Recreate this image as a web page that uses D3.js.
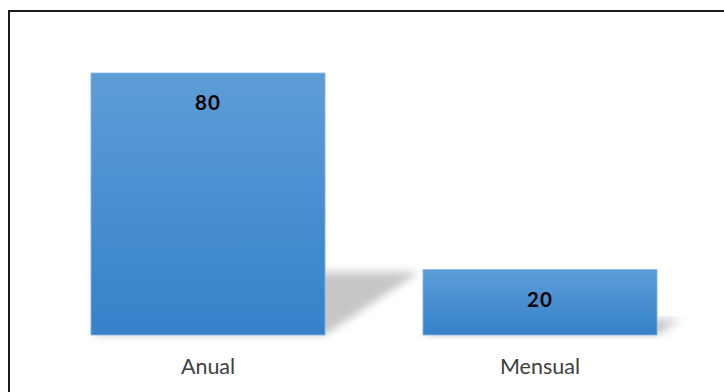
<!DOCTYPE html>
<html>
<head>
<meta charset="utf-8">
<script src="https://cdn.jsdelivr.net/npm/d3@7"></script>
<style>
  html, body { margin: 0; padding: 0; background: #fff; }
  svg { display: block; }
</style>
</head>
<body>
<svg id="chart" width="724" height="392"></svg>
<script>
const categories = ["Anual", "Mensual"];
const values = [80, 20];
const valueLabels = ["80", "20"];

const W = 724, H = 392;
const svg = d3.select("#chart");

// frame border (extends beyond right/bottom edges)
svg.append("rect")
  .attr("x", 9).attr("y", 11)
  .attr("width", W + 20).attr("height", H + 20)
  .attr("fill", "#fff")
  .attr("stroke", "#1a1a1a").attr("stroke-width", 2);

const x = d3.scaleBand().domain(categories).range([42, 706]).paddingInner(0.295).paddingOuter(0.1475);
const y = d3.scaleLinear().domain([0, 80]).range([335, 73]);

const defs = svg.append("defs");
const grad = defs.append("linearGradient").attr("id", "barGrad")
  .attr("x1", 0).attr("y1", 0).attr("x2", 0).attr("y2", 1);
grad.append("stop").attr("offset", "0%").attr("stop-color", "#5d9dd7");
grad.append("stop").attr("offset", "100%").attr("stop-color", "#3581ca");

const blur = defs.append("filter").attr("id", "shBlur")
  .attr("x", "-20%").attr("y", "-20%").attr("width", "140%").attr("height", "140%");
blur.append("feGaussianBlur").attr("stdDeviation", 4);

const data = categories.map((c, i) => ({ c, v: values[i], label: valueLabels[i] }));
const base = y(0);

// perspective shadows
svg.append("g").selectAll("polygon").data(data).join("polygon")
  .attr("points", d => {
    const x0 = x(d.c), x1 = x(d.c) + x.bandwidth();
    const h = base - y(d.v);
    const k = 0.24, dx = h * 0.36;
    return [[x0, base], [x1, base], [x1 + dx, base - h * k], [x0 + dx, base - h * k]]
      .map(p => p.join(",")).join(" ");
  })
  .attr("fill", "#b8b8b8")
  .attr("opacity", 0.8)
  .attr("filter", "url(#shBlur)");

// bars
svg.append("g").selectAll("rect").data(data).join("rect")
  .attr("x", d => x(d.c))
  .attr("y", d => y(d.v))
  .attr("width", x.bandwidth())
  .attr("height", d => base - y(d.v))
  .attr("fill", "url(#barGrad)")
  .attr("stroke", "#8ab8e3").attr("stroke-width", 0.8);

// value labels
svg.append("g").selectAll("text").data(data).join("text")
  .attr("x", d => x(d.c) + x.bandwidth() / 2)
  .attr("y", d => y(d.v) + 37)
  .attr("text-anchor", "middle")
  .attr("font-family", "Lato, 'Open Sans', sans-serif")
  .attr("font-weight", "bold")
  .attr("font-size", 20.5)
  .attr("letter-spacing", 1)
  .attr("fill", "#000")
  .text(d => d.label);

// category axis labels
const xAxis = d3.axisBottom(x).tickSize(0).tickPadding(0);
const ax = svg.append("g").attr("transform", `translate(0,${base})`).call(xAxis);
ax.select(".domain").remove();
ax.selectAll("text")
  .attr("y", 38.5).attr("dy", null)
  .attr("font-family", "Lato, 'Open Sans', sans-serif")
  .attr("font-size", 21.5)
  .attr("fill", "#404040");
</script>
</body>
</html>
